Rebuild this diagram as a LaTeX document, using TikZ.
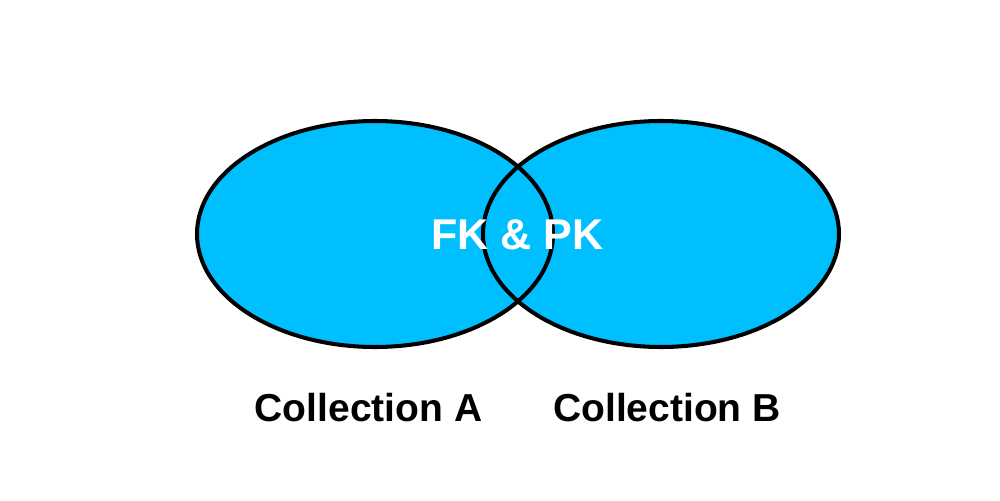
\documentclass[tikz,border=0pt]{standalone}
\usepackage{fontspec}
\setmainfont{Liberation Sans}
\usetikzlibrary{shapes.geometric}
\definecolor{setblue}{RGB}{0,191,255}

\begin{document}
\begin{tikzpicture}[x=0.02cm, y=-0.02cm]
\useasboundingbox (0,0) rectangle (1000,500);

\node[ellipse, fill=setblue, inner sep=0pt, minimum width=7.12cm, minimum height=4.52cm] (collA) at (375,234)
  {};
\node[ellipse, fill=setblue, inner sep=0pt, minimum width=7.12cm, minimum height=4.52cm] (collB) at (661,234)
  {};

\draw[line width=2.3pt] (collA.center) ellipse [x radius=178, y radius=113];
\draw[line width=2.3pt] (collB.center) ellipse [x radius=178, y radius=113];

\node[anchor=base, text=white, font=\fontsize{24.5}{28}\selectfont\bfseries] (keys) at (517.5,249)
  {FK \& PK};

\node[anchor=base, font=\fontsize{22.2}{26}\selectfont\bfseries] (labelA) at (368.5,421)
  {Collection A};
\node[anchor=base, font=\fontsize{22.2}{26}\selectfont\bfseries] (labelB) at (667,421)
  {Collection B};

\end{tikzpicture}
\end{document}
